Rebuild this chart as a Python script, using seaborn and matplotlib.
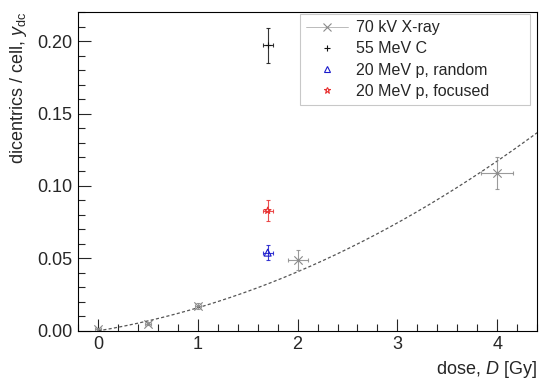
import numpy as np
import pandas as pd
import matplotlib
matplotlib.use("Agg")
import matplotlib.pyplot as plt
from matplotlib.lines import Line2D
import seaborn as sns

# --- data ---
xray_dose = [0.0, 0.5, 1.0, 2.0, 4.0]
xray_y = [0.001, 0.005, 0.017, 0.049, 0.109]
xray_xerr = [0.03, 0.03, 0.03, 0.10, 0.16]
xray_yerr = [0.001, 0.001, 0.002, 0.007, 0.011]

c_dose = [1.7]
c_y = [0.197]
c_xerr = [0.05]
c_yerr = [0.012]

prand_dose = [1.7]
prand_y = [0.054]
prand_xerr = [0.05]
prand_yerr = [0.005]

pfoc_dose = [1.7]
pfoc_y = [0.083]
pfoc_xerr = [0.05]
pfoc_yerr = [0.007]

# linear-quadratic fit parameters to X-ray data: y = alpha*D + beta*D^2
fit_alpha = 0.0115
fit_beta = 0.00445
fit_range = [0.0, 4.4]

labels = ["70 kV X-ray", "55 MeV C", "20 MeV p, random", "20 MeV p, focused"]

sns.set_theme(style="ticks")
plt.rcParams['font.family'] = ['Liberation Sans', 'DejaVu Sans']
plt.rcParams['mathtext.fontset'] = 'custom'
plt.rcParams['mathtext.it'] = 'Liberation Sans:italic'
plt.rcParams['mathtext.rm'] = 'Liberation Sans'

fig = plt.figure(figsize=(5.42, 3.79), dpi=100)
ax = fig.add_axes([0.144, 0.127, 0.847, 0.841])

# fit curve
d = np.linspace(fit_range[0], fit_range[1], 200)
fit_df = pd.DataFrame({"dose": d, "y": fit_alpha * d + fit_beta * d ** 2})
sns.lineplot(data=fit_df, x="dose", y="y", ax=ax, color="#555555", lw=0.9,
             linestyle=(0, (2.5, 1.8)), legend=False)

series = [
    (xray_dose, xray_y, xray_xerr, xray_yerr, "#8a8a8a", "x", 6, True),
    (c_dose, c_y, c_xerr, c_yerr, "#111111", "+", 5, False),
    (prand_dose, prand_y, prand_xerr, prand_yerr, "#1a1acc", "^", 5, False),
    (pfoc_dose, pfoc_y, pfoc_xerr, pfoc_yerr, "#e83030", "*", 5, False),
]
handles = []
for (xd, yd, xe, ye, col, mk, ms, line), lab in zip(series, labels):
    ax.errorbar(xd, yd, xerr=xe, yerr=ye, fmt="none", ecolor=col, elinewidth=0.8,
                capsize=1.5, capthick=0.8, alpha=0.85)
    df = pd.DataFrame({"dose": xd, "y": yd})
    if mk in ("x", "+"):
        sns.scatterplot(data=df, x="dose", y="y", ax=ax, marker=mk, color=col,
                        s=ms ** 2, linewidth=0.8, legend=False)
    else:
        sns.scatterplot(data=df, x="dose", y="y", ax=ax, marker=mk, facecolor="none",
                        edgecolor=col, s=ms ** 2, linewidth=0.8, legend=False)
    h = Line2D([], [], linestyle="-" if line else "none", color="#b0b0b0" if line else col,
               lw=0.6, marker=mk, markersize=ms, markerfacecolor="none",
               markeredgecolor=col, markeredgewidth=0.8, label=lab)
    handles.append(h)

if ax.get_legend() is not None:
    ax.get_legend().remove()

leg = fig.legend(handles=handles, labels=labels, loc="upper left",
                 bbox_to_anchor=(300 / 542, 1 - 100 / 379, 230 / 542, 86 / 379),
                 bbox_transform=fig.transFigure, mode="expand",
                 fontsize=11.5, frameon=True, fancybox=False, borderpad=0.4,
                 labelspacing=0.38, handlelength=2.6, handletextpad=0.5,
                 borderaxespad=0.0)
leg.get_frame().set_edgecolor("#bbbbbb")
leg.get_frame().set_linewidth(0.8)

ax.set_xlim(-0.2, 4.4)
ax.set_ylim(0, 0.22)
ax.set_xticks([0, 1, 2, 3, 4])
ax.set_xticks(np.arange(-0.2, 4.41, 0.2), minor=True)
ax.set_yticks([0.0, 0.05, 0.10, 0.15, 0.20])
ax.set_yticks(np.arange(0, 0.221, 0.01), minor=True)
ax.set_yticklabels(["0.00", "0.05", "0.10", "0.15", "0.20"])
ax.tick_params(axis="both", which="major", direction="in", length=9, width=0.8,
               labelsize=13, top=False, right=False, pad=4)
ax.tick_params(axis="both", which="minor", direction="in", length=5, width=0.8,
               top=False, right=False)
for sp in ax.spines.values():
    sp.set_linewidth(0.8)
    sp.set_color("black")

ax.set_xlabel(r"dose, $D$ [Gy]", fontsize=13, loc="right", labelpad=4)
ax.set_ylabel(r"dicentrics / cell, $y_{\rm dc}$", fontsize=13, loc="top", labelpad=6)

fig.savefig("out.png", dpi=100)
